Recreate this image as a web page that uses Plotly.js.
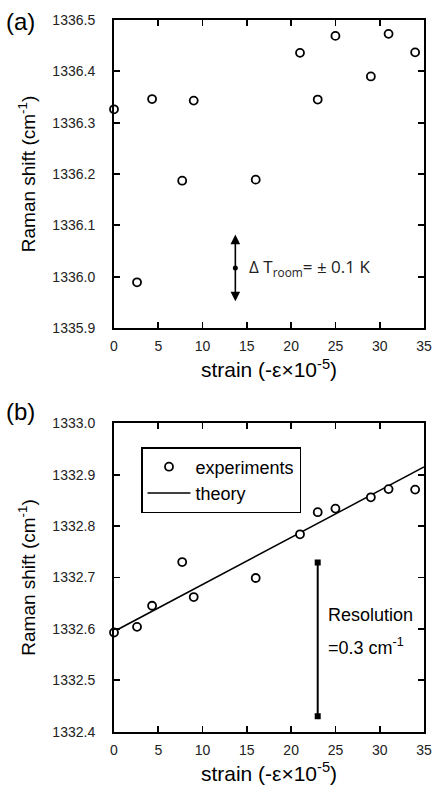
<!DOCTYPE html>
<html>
<head>
<meta charset="utf-8">
<script src="https://cdn.plot.ly/plotly-3.0.1.min.js"></script>
<style>html,body{margin:0;padding:0;background:#fff;}#chart{width:434px;height:786px;}</style>
</head>
<body>
<div id="chart"></div>
<script>
// ---- data ----
var strain = [0, 2.6, 4.3, 7.7, 9.0, 16.0, 21.0, 23.0, 25.0, 29.0, 31.0, 34.0];
var ramanA = [1336.326, 1335.989, 1336.346, 1336.187, 1336.343, 1336.189, 1336.436, 1336.345, 1336.469, 1336.390, 1336.473, 1336.437];
var ramanB = [1332.593, 1332.604, 1332.645, 1332.730, 1332.662, 1332.699, 1332.784, 1332.827, 1332.834, 1332.856, 1332.872, 1332.871];
var theoryX = [0, 35];
var theoryY = [1332.595, 1332.915];
var resolutionX = [23, 23];
var resolutionY = [1332.430, 1332.729];
var deltaTX = 13.7;
var deltaTY = [1335.952, 1336.017, 1336.082];
var xTicks = [0, 5, 10, 15, 20, 25, 30, 35];
var yTicksA = [1335.9, 1336.0, 1336.1, 1336.2, 1336.3, 1336.4, 1336.5];
var yTicksB = [1332.4, 1332.5, 1332.6, 1332.7, 1332.8, 1332.9, 1333.0];

var FONT = 'Liberation Sans, Arial, sans-serif';
var W = 434, H = 786;

var markerStyle = {symbol: 'circle', size: 8, color: 'white', line: {color: 'black', width: 1.8}};

var traces = [
  {x: strain, y: ramanA, xaxis: 'x', yaxis: 'y', mode: 'markers', marker: markerStyle, showlegend: false, cliponaxis: false},
  {x: [deltaTX], y: [deltaTY[1]], xaxis: 'x', yaxis: 'y', mode: 'markers', marker: {symbol: 'circle', size: 5, color: 'black'}, showlegend: false},
  {x: theoryX, y: theoryY, xaxis: 'x2', yaxis: 'y2', mode: 'lines', line: {color: 'black', width: 1.5}, name: 'theory', showlegend: true, legendrank: 2, cliponaxis: false},
  {x: strain, y: ramanB, xaxis: 'x2', yaxis: 'y2', mode: 'markers', marker: markerStyle, name: 'experiments', showlegend: true, legendrank: 1, cliponaxis: false},
  {x: resolutionX, y: resolutionY, xaxis: 'x2', yaxis: 'y2', mode: 'lines+markers', line: {color: 'black', width: 2}, marker: {symbol: 'square', size: 6, color: 'black'}, showlegend: false}
];

function xAxis(anchor) {
  return {
    anchor: anchor, domain: [114 / W, 424 / W], range: [0, 35],
    tickvals: xTicks, ticks: 'inside', ticklen: 6, tickwidth: 1.8, tickcolor: 'black',
    showline: true, linewidth: 2, linecolor: 'black', mirror: 'ticks', showgrid: false, zeroline: false,
    tickfont: {family: FONT, size: 14, color: '#222'}, ticklabelstandoff: 4,
    title: {text: 'strain (-ε×10<sup>-5</sup>)', font: {family: FONT, size: 21, color: 'black'}, standoff: 10}
  };
}
function yAxis(anchor, dom, rng, tv) {
  return {
    anchor: anchor, domain: dom, range: rng,
    tickvals: tv, tickformat: '.1f', ticks: 'inside', ticklen: 6, tickwidth: 1.8, tickcolor: 'black',
    showline: true, linewidth: 2, linecolor: 'black', mirror: 'ticks', showgrid: false, zeroline: false,
    tickfont: {family: FONT, size: 14, color: '#222'}, ticklabelstandoff: 14,
    title: {text: 'Raman shift (cm<sup>-1</sup>)', font: {family: FONT, size: 19, color: 'black'}, standoff: 12}
  };
}

var layout = {
  width: W, height: H,
  margin: {l: 0, r: 0, t: 0, b: 0},
  paper_bgcolor: 'white', plot_bgcolor: 'white',
  xaxis: xAxis('y'),
  yaxis: yAxis('x', [1 - 328 / H, 1 - 20 / H], [1335.9, 1336.5], yTicksA),
  xaxis2: xAxis('y2'),
  yaxis2: yAxis('x2', [1 - 731.7 / H, 1 - 423.3 / H], [1332.4, 1333.0], yTicksB),
  showlegend: true,
  legend: {
    x: 141 / W, y: 1 - 447 / H, xanchor: 'left', yanchor: 'top',
    bgcolor: 'white', bordercolor: 'black', borderwidth: 1.5,
    font: {family: FONT, size: 18, color: 'black'},
    traceorder: 'normal', itemwidth: 43
  },
  annotations: [
    {xref: 'paper', yref: 'paper', x: 4 / W, y: 1 - 6 / H, xanchor: 'left', yanchor: 'top', text: '(a)', showarrow: false, font: {family: FONT, size: 24, color: 'black'}},
    {xref: 'paper', yref: 'paper', x: 4 / W, y: 1 - 396 / H, xanchor: 'left', yanchor: 'top', text: '(b)', showarrow: false, font: {family: FONT, size: 24, color: 'black'}},
    {xref: 'x', yref: 'y', x: deltaTX, y: deltaTY[2], axref: 'x', ayref: 'y', ax: deltaTX, ay: deltaTY[1], showarrow: true, arrowhead: 2, arrowsize: 1.2, arrowwidth: 1.6, arrowcolor: 'black', text: ''},
    {xref: 'x', yref: 'y', x: deltaTX, y: deltaTY[0], axref: 'x', ayref: 'y', ax: deltaTX, ay: deltaTY[1], showarrow: true, arrowhead: 2, arrowsize: 1.2, arrowwidth: 1.6, arrowcolor: 'black', text: ''},
    {xref: 'x', yref: 'y', x: 15.0, y: deltaTY[1], xanchor: 'left', yanchor: 'middle', showarrow: false, text: 'Δ T<sub>room</sub>= ± 0.1 K', font: {family: 'Open Sans, sans-serif', size: 17, color: '#222'}},
    {xref: 'x2', yref: 'y2', x: 23.9, y: 1332.627, xanchor: 'left', yanchor: 'middle', showarrow: false, text: 'Resolution', font: {family: FONT, size: 18, color: 'black'}},
    {xref: 'x2', yref: 'y2', x: 23.9, y: 1332.565, xanchor: 'left', yanchor: 'middle', showarrow: false, text: '=0.3 cm<sup>-1</sup>', font: {family: FONT, size: 18, color: 'black'}}
  ]
};

Plotly.newPlot('chart', traces, layout, {displayModeBar: false, staticPlot: true});
</script>
</body>
</html>
